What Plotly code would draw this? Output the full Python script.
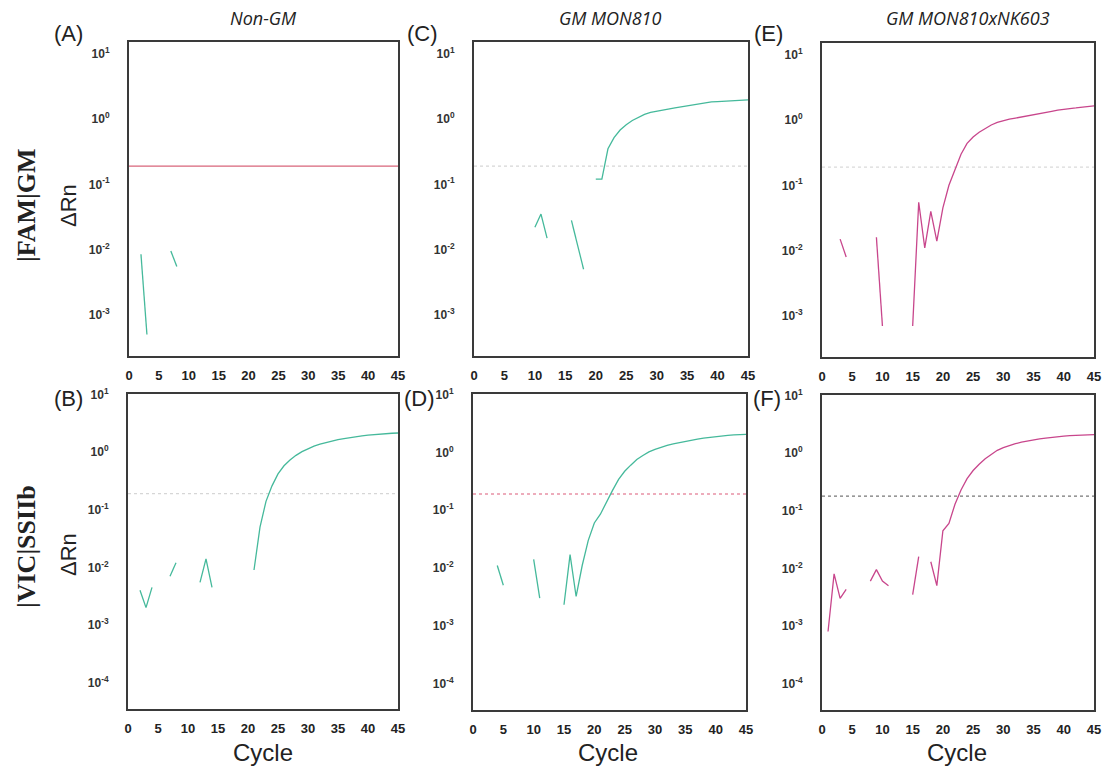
import plotly.graph_objects as go

# ---------------- data ----------------
x_ticks = [0, 5, 10, 15, 20, 25, 30, 35, 40, 45]
top_ytick_vals = [10, 1, 0.1, 0.01, 0.001]
top_ytick_text = ["10<sup>1</sup>", "10<sup>0</sup>", "10<sup>-1</sup>", "10<sup>-2</sup>", "10<sup>-3</sup>"]
bot_ytick_vals = [10, 1, 0.1, 0.01, 0.001, 0.0001]
bot_ytick_text = top_ytick_text + ["10<sup>-4</sup>"]

col_titles = ["Non-GM", "GM MON810", "GM MON810xNK603"]
row_titles = ["|FAM|GM", "|VIC|SSIIb"]

# (A) FAM, Non-GM
A_cycle = [2, 3, None, 7, 8]
A_drn = [0.0085, 0.0005, None, 0.0095, 0.0055]
# (C) FAM, GM MON810
C_cycle = [10, 11, 12, None, 16, 17, 18, None,
           20, 21, 22, 23, 24, 25, 26, 27, 28, 29, 30, 31, 32, 33, 34, 35, 36, 37, 38, 39, 40, 41, 42, 43, 44, 45]
C_drn = [0.022, 0.035, 0.015, None, 0.028, 0.012, 0.005, None,
         0.12, 0.12, 0.35, 0.52, 0.68, 0.82, 0.95, 1.07, 1.18, 1.26, 1.32, 1.38, 1.43, 1.48, 1.53, 1.59,
         1.66, 1.73, 1.79, 1.83, 1.85, 1.87, 1.9, 1.92, 1.95, 1.97]
# (E) FAM, GM MON810xNK603
E_cycle = [3, 4, None, 9, 10, None,
           15, 16, 17, 18, 19, 20, 21, 22, 23, 24, 25, 26, 27, 28, 29, 30, 31, 32, 33, 34, 35, 36, 37, 38, 39, 40,
           41, 42, 43, 44, 45]
E_drn = [0.015, 0.008, None, 0.016, 0.0007, None,
         0.0007, 0.055, 0.011, 0.04, 0.014, 0.045, 0.1, 0.17, 0.3, 0.44, 0.55, 0.65, 0.75, 0.84, 0.92, 0.98, 1.03,
         1.07, 1.11, 1.15, 1.2, 1.25, 1.3, 1.36, 1.42, 1.47, 1.5, 1.53, 1.57, 1.61, 1.65]
# (B) VIC, Non-GM
B_cycle = [2, 3, 4, None, 7, 8, None, 12, 13, 14, None,
           21, 22, 23, 24, 25, 26, 27, 28, 29, 30, 31, 32, 33, 34, 35, 36, 37, 38, 39, 40, 41, 42, 43, 44, 45]
B_drn = [0.004, 0.002, 0.0045, None, 0.007, 0.012, None, 0.0055, 0.014, 0.0045, None,
         0.009, 0.05, 0.14, 0.26, 0.42, 0.58, 0.73, 0.88, 1.02, 1.15, 1.27, 1.38, 1.48, 1.57, 1.65, 1.72,
         1.8, 1.86, 1.92, 1.97, 2.02, 2.06, 2.1, 2.13, 2.15]
# (D) VIC, GM MON810
D_cycle = [4, 5, None, 10, 11, None,
           15, 16, 17, 18, 19, 20, 21, 22, 23, 24, 25, 26, 27, 28, 29, 30, 31, 32, 33, 34, 35, 36, 37, 38, 39, 40,
           41, 42, 43, 44, 45]
D_drn = [0.011, 0.005, None, 0.014, 0.003, None,
         0.0023, 0.017, 0.0032, 0.011, 0.03, 0.06, 0.085, 0.14, 0.22, 0.34, 0.47, 0.6, 0.75, 0.88, 1.02, 1.13,
         1.23, 1.32, 1.4, 1.48, 1.56, 1.63, 1.7, 1.76, 1.82, 1.88, 1.93, 1.97, 2.0, 2.03, 2.05]
# (F) VIC, GM MON810xNK603
F_cycle = [1, 2, 3, 4, None, 8, 9, 10, 11, None, 15, 16, None,
           18, 19, 20, 21, 22, 23, 24, 25, 26, 27, 28, 29, 30, 31, 32, 33, 34, 35, 36, 37, 38, 39, 40,
           41, 42, 43, 44, 45]
F_drn = [0.0008, 0.008, 0.003, 0.0043, None, 0.006, 0.0095, 0.006, 0.005, None, 0.0035, 0.016, None,
         0.013, 0.005, 0.045, 0.06, 0.13, 0.23, 0.36, 0.5, 0.64, 0.8, 0.95, 1.12, 1.25, 1.36, 1.46, 1.55,
         1.63, 1.7, 1.77, 1.83, 1.89, 1.94, 1.98, 2.01, 2.04, 2.06, 2.08, 2.1]

threshold_cycle = [0, 45]
threshold_A = [0.19, 0.19]
threshold_C = [0.19, 0.19]
threshold_E = [0.19, 0.19]
threshold_B = [0.19, 0.19]
threshold_D = [0.19, 0.19]
threshold_F = [0.18, 0.18]

# ---------------- styling / layout ----------------
W, H = 1103, 769
TEAL = "#45b99b"
MAGENTA = "#c8468c"


def px_x(a, b):
    return [a / W, b / W]


def px_y(top, bottom):
    return [1 - bottom / H, 1 - top / H]


panels = [
    # key, cycles, values, color, thr, thr_color, thr_dash, xdom, ydom, row
    ("A", A_cycle, A_drn, TEAL, threshold_A, "#d8647a", "solid", px_x(129, 398), px_y(42, 356), 0),
    ("C", C_cycle, C_drn, TEAL, threshold_C, "#d6d6d6", "dot", px_x(474, 748), px_y(42, 356), 0),
    ("E", E_cycle, E_drn, MAGENTA, threshold_E, "#dadada", "dot", px_x(822, 1094), px_y(43, 357), 0),
    ("B", B_cycle, B_drn, TEAL, threshold_B, "#d6d6d6", "dot", px_x(128, 398), px_y(394, 709), 1),
    ("D", D_cycle, D_drn, TEAL, threshold_D, "#dc5a78", "dot", px_x(473, 746), px_y(394, 710), 1),
    ("F", F_cycle, F_drn, MAGENTA, threshold_F, "#777777", "dot", px_x(822, 1094), px_y(395, 710), 1),
]

fig = go.Figure()
layout_axes = {}
for i, (key, cx, cy, col, thr, thr_col, thr_dash, xd, yd, row) in enumerate(panels):
    n = "" if i == 0 else str(i + 1)
    xa, ya = "x" + n, "y" + n
    fig.add_trace(go.Scatter(x=threshold_cycle, y=thr, mode="lines", xaxis=xa, yaxis=ya,
                             line=dict(color=thr_col, width=1.2, dash=thr_dash), hoverinfo="skip"))
    fig.add_trace(go.Scatter(x=cx, y=cy, mode="lines", xaxis=xa, yaxis=ya,
                             line=dict(color=col, width=1.3), connectgaps=False))
    if row == 0:
        yr = [-3.63, 1.18]
        tv, tt = top_ytick_vals, top_ytick_text
    else:
        yr = [-4.46, 1.01]
        tv, tt = bot_ytick_vals, bot_ytick_text
    layout_axes["xaxis" + n] = dict(
        domain=xd, anchor=ya, range=[0, 45], tickvals=x_ticks, ticks="", showgrid=False, zeroline=False,
        showline=True, mirror=True, linecolor="#3a3a3a", linewidth=2,
        tickfont=dict(family="Liberation Sans, Arial", size=13, color="#222", weight="bold"),
        ticklabelstandoff=6,
    )
    layout_axes["yaxis" + n] = dict(
        domain=yd, anchor=xa, type="log", range=yr, tickvals=tv, ticktext=tt, ticks="", showgrid=False,
        zeroline=False, showline=True, mirror=True, linecolor="#3a3a3a", linewidth=2,
        tickfont=dict(family="Liberation Sans, Arial", size=12, color="#333", weight="bold"),
        ticklabelstandoff=15,
    )

fig.update_layout(**layout_axes)

ann = []


def add_text(text, xc, yc, size, family, angle=0):
    ann.append(dict(text=text, x=xc / W, y=1 - yc / H, xref="paper", yref="paper", showarrow=False,
                    xanchor="center", yanchor="middle", textangle=angle,
                    font=dict(family=family, size=size, color="#222")))


# column titles
for t, xc in zip(col_titles, [263, 610, 968]):
    add_text("<i>" + t + "</i>", xc, 18, 18, "Open Sans, Arial")
# panel letters
for t, xc, yc in [("(A)", 68, 33), ("(C)", 422, 33), ("(E)", 768, 33),
                  ("(B)", 68, 399), ("(D)", 419, 399), ("(F)", 767, 399)]:
    add_text(t, xc, yc, 22, "Liberation Sans, Arial")
# row labels
for t, yc in zip(row_titles, [206, 547]):
    add_text("<b>" + t + "</b>", 26, yc, 26, "Liberation Serif, Times New Roman", -90)
for yc in [206, 555]:
    add_text("ΔRn", 68, yc, 22, "Liberation Sans, Arial", -90)
for xc in [263, 608, 957]:
    add_text("Cycle", xc, 752, 24, "Liberation Sans, Arial")

fig.update_layout(
    width=W, height=H, margin=dict(l=0, r=0, t=0, b=0, autoexpand=False),
    plot_bgcolor="white", paper_bgcolor="white", showlegend=False, annotations=ann,
)

post = ("document.body.style.margin='0';document.body.style.overflow='hidden';"
        "var d=document.getElementById('{plot_id}');d.style.position='fixed';"
        "d.style.left='0px';d.style.top='0px';")
fig.write_html("out.html", post_script=post, config={"displayModeBar": False})
